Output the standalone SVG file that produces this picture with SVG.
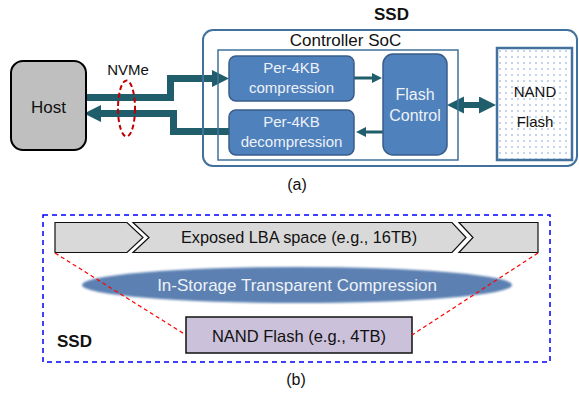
<svg xmlns="http://www.w3.org/2000/svg" width="579" height="394" viewBox="0 0 579 394">
  <style>
    .t { font-family: "Liberation Sans", Arial, sans-serif; fill: #111; }
    .w { font-family: "Liberation Sans", Arial, sans-serif; fill: #eef2f8; }
    .b { font-weight: bold; }
    .blk { fill: #4f81bd; stroke: #385d8a; stroke-width: 1.5; }
    .cont { fill: none; stroke: #41719c; }
    .fat { fill: none; stroke: #215e6b; stroke-width: 7; stroke-linejoin: miter; }
    .thin { fill: none; stroke: #215e6b; stroke-width: 3; }
    .red { fill: none; stroke: #ff0000; stroke-width: 1.2; stroke-dasharray: 4 3; }
  </style>
  <defs>
    <marker id="bigHead" markerUnits="userSpaceOnUse" markerWidth="18" markerHeight="18" refX="1" refY="8.5" orient="auto">
      <path d="M0,0 L17,8.5 L0,17 Z" fill="#215e6b"/>
    </marker>
    <marker id="dblHead" markerUnits="userSpaceOnUse" markerWidth="18" markerHeight="18" refX="1" refY="8.5" orient="auto-start-reverse">
      <path d="M0,0 L17,8.5 L0,17 Z" fill="#215e6b"/>
    </marker>
    <marker id="smallHead" markerUnits="userSpaceOnUse" markerWidth="12" markerHeight="12" refX="1" refY="5" orient="auto">
      <path d="M0,0 L10,5 L0,10 Z" fill="#215e6b"/>
    </marker>
    <pattern id="dots" patternUnits="userSpaceOnUse" width="6" height="6" x="497" y="48">
      <circle cx="3" cy="3" r="0.7" fill="#5b8ac6"/>
    </pattern>
    <filter id="soft" x="-5%" y="-30%" width="110%" height="160%">
      <feGaussianBlur stdDeviation="1.2"/>
    </filter>
  </defs>

  <!-- (a) connectors (drawn beneath containers) -->
  <g id="connectors">
    <polyline class="fat" points="86,97.5 170.5,97.5 170.5,78.5 213,78.5" marker-end="url(#bigHead)"/>
    <polyline class="fat" points="232,131.5 173.5,131.5 173.5,113.5 100,113.5" marker-end="url(#bigHead)"/>
    <line class="thin" x1="354" y1="78" x2="373" y2="78" marker-end="url(#smallHead)"/>
    <line class="thin" x1="383" y1="132" x2="365" y2="132" marker-end="url(#smallHead)"/>
    <line class="fat" style="stroke-width:6" x1="463" y1="105" x2="480" y2="105" marker-start="url(#dblHead)" marker-end="url(#dblHead)"/>
  </g>

  <g id="ssd">
    <rect class="cont" x="203" y="30" width="374" height="136" rx="10" stroke-width="2"/>
    <text class="t b" x="391.5" y="20" font-size="17" text-anchor="middle">SSD</text>
  </g>

  <g id="controller-soc">
    <rect class="cont" x="218" y="50" width="240" height="110" stroke-width="1.5"/>
    <text class="t" x="345.5" y="46" font-size="17" text-anchor="middle">Controller SoC</text>
  </g>

  <g id="host">
    <rect x="11" y="61" width="75" height="89" rx="12" fill="#bfbfbf" stroke="#000" stroke-width="2"/>
    <text class="t" x="48.5" y="113" font-size="17" text-anchor="middle">Host</text>
  </g>

  <g id="nvme">
    <text class="t" x="128" y="75" font-size="15" text-anchor="middle">NVMe</text>
    <ellipse cx="126.5" cy="108.5" rx="8.5" ry="28" fill="none" stroke="#c00000" stroke-width="2" stroke-dasharray="5 3"/>
  </g>

  <g id="compression">
    <rect class="blk" x="229" y="56" width="125" height="45" rx="7"/>
    <text class="w" x="291.5" y="73" font-size="15" text-anchor="middle">Per-4KB</text>
    <text class="w" x="291.5" y="93" font-size="15" text-anchor="middle">compression</text>
  </g>

  <g id="decompression">
    <rect class="blk" x="229" y="110" width="125" height="45" rx="7"/>
    <text class="w" x="291.5" y="127" font-size="15" text-anchor="middle">Per-4KB</text>
    <text class="w" x="291.5" y="147" font-size="15" text-anchor="middle">decompression</text>
  </g>

  <g id="flash-control">
    <rect class="blk" x="383" y="54" width="64" height="101" rx="10"/>
    <text class="w" x="415" y="100" font-size="16" text-anchor="middle">Flash</text>
    <text class="w" x="415" y="121" font-size="16" text-anchor="middle">Control</text>
  </g>

  <g id="nand-flash-a">
    <rect x="497" y="48" width="75" height="112" fill="#fff" stroke="#41719c" stroke-width="2.5"/>
    <rect x="498" y="49" width="73" height="110" fill="url(#dots)"/>
    <text class="t" x="535" y="97" font-size="15" text-anchor="middle">NAND</text>
    <text class="t" x="535" y="127" font-size="15" text-anchor="middle">Flash</text>
  </g>

  <text class="t" x="297" y="190" font-size="16" text-anchor="middle">(a)</text>

  <!-- (b) -->
  <g id="ssd-b">
    <rect x="43" y="215" width="507" height="147" fill="none" stroke="#0000ff" stroke-width="1.5" stroke-dasharray="5 4"/>
    <text class="t b" x="57" y="347" font-size="17">SSD</text>
  </g>

  <g id="lba-space">
    <path d="M55,222.5 L127,222.5 L143,237.5 L127,252.5 L55,252.5 Z" fill="#d9d9d9" stroke="#111" stroke-width="1.2"/>
    <path d="M133,222.5 L452,222.5 L466,237.5 L452,252.5 L133,252.5 L149,237.5 Z" fill="#d9d9d9" stroke="#111" stroke-width="1.2"/>
    <path d="M459,222.5 L538,222.5 L538,252.5 L459,252.5 L473,237.5 Z" fill="#d9d9d9" stroke="#111" stroke-width="1.2"/>
    <text class="t" x="299" y="243" font-size="16.3" text-anchor="middle">Exposed LBA space (e.g., 16TB)</text>
  </g>

  <g id="compression-layer">
    <ellipse cx="297" cy="285" rx="215" ry="18" fill="#5b80b2" filter="url(#soft)"/>
    <text class="w" x="297" y="291" font-size="17" text-anchor="middle">In-Storage Transparent Compression</text>
  </g>

  <g id="nand-flash-b">
    <rect x="186" y="317" width="226" height="36" fill="#ccc1da" stroke="#111" stroke-width="1.5"/>
    <text class="t" x="299" y="342" font-size="16.5" text-anchor="middle">NAND Flash (e.g., 4TB)</text>
  </g>

  <g id="mapping-lines">
    <line class="red" x1="55" y1="253" x2="186" y2="335"/>
    <line class="red" x1="538" y1="253" x2="412" y2="335"/>
  </g>

  <text class="t" x="296" y="385" font-size="16" text-anchor="middle">(b)</text>
</svg>
